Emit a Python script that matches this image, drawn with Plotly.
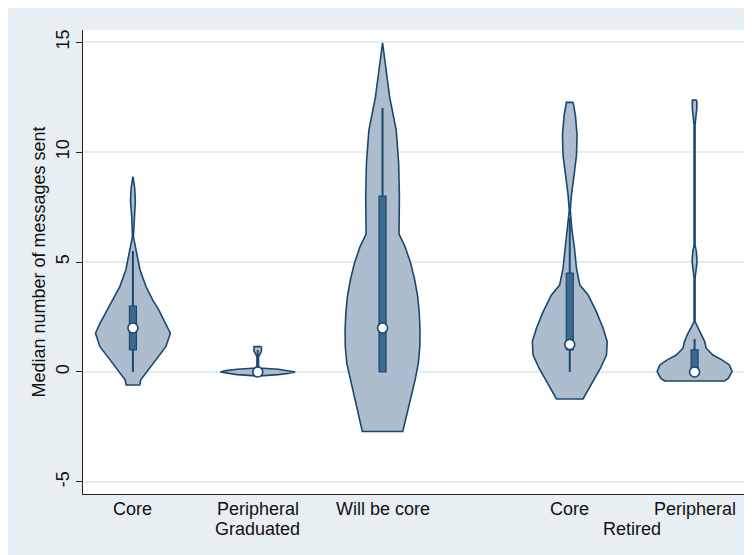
import plotly.graph_objects as go

# ---------------- data ----------------
categories = ["Core", "Peripheral", "Will be core", "Core", "Peripheral"]
groups = ["Graduated", "Retired"]
positions = [1, 2, 3, 4.5, 5.5]
group_centers = [2, 5.0]

# violin density profiles (value, relative density)
v1_y = [8.88, 8.4, 7.8, 7.0, 6.15, 5.4, 4.64, 3.88, 3.27, 2.82, 2.21, 1.76, 1.15, 0.55, 0.09, -0.36, -0.59]
v1_d = [0.0, 0.045, 0.065, 0.03, 0.013, 0.1, 0.19, 0.35, 0.53, 0.69, 0.88, 1.0, 0.88, 0.61, 0.4, 0.21, 0.18]

v2_y = [1.15, 0.95, 0.8, 0.7, 0.3, 0.18, 0.12, 0.06, 0.0, -0.06, -0.12, -0.18]
v2_d = [0.1, 0.1, 0.06, 0.02, 0.02, 0.05, 0.55, 0.85, 1.0, 0.85, 0.55, 0.05]

v3_y = [14.97, 14.03, 12.5, 11.0, 9.5, 7.97, 6.45, 6.27, 5.70, 4.95, 4.18, 3.42, 2.68, 1.91, 1.15, 0.39, -0.36, -1.12, -1.88, -2.71]
v3_d = [0.0, 0.075, 0.19, 0.365, 0.43, 0.45, 0.44, 0.44, 0.6, 0.75, 0.86, 0.94, 0.98, 1.0, 0.995, 0.955, 0.87, 0.76, 0.655, 0.54]

v4_y = [12.26, 11.68, 10.77, 9.86, 8.95, 8.05, 7.36, 6.53, 5.62, 4.71, 3.95, 3.5, 2.74, 1.99, 1.38, 0.77, 0.17, -0.44, -1.23]
v4_d = [0.09, 0.15, 0.195, 0.18, 0.115, 0.045, 0.013, 0.053, 0.125, 0.18, 0.27, 0.49, 0.71, 0.89, 1.0, 0.98, 0.82, 0.62, 0.355]

v5_y = [12.36, 11.98, 11.53, 11.23, 5.77, 5.47, 5.02, 4.56, 4.26, 2.29, 1.99, 1.68, 1.38, 1.08, 0.77, 0.55, 0.32, 0.02, -0.29, -0.41]
v5_d = [0.06, 0.06, 0.03, 0.013, 0.013, 0.048, 0.067, 0.04, 0.013, 0.013, 0.1, 0.2, 0.27, 0.31, 0.49, 0.73, 0.93, 1.0, 0.9, 0.8]

# box statistics
medians = [2, 0, 2, 1.25, 0]
q1 = [1, 0, 0, 1, 0]
q3 = [3, 0, 8, 4.5, 1]
whisker_lo = [0, 0, 0, 0, 0]
whisker_hi = [5.5, 1, 12, 7, 1.5]

y_ticks = [-5, 0, 5, 10, 15]
y_ticktext = ["-5", "0", "5", "10", "15"]

# ---------------- style ----------------
FILL = "#aebdcd"
LINE = "#1a476f"
BOX = "#3d6a8f"
GRID = "#e4edf1"
PANEL = "#e8eff2"
FONT = "Liberation Sans, Arial, sans-serif"
HALF = 0.30   # max half-width of a violin in x units
BOXW = 0.028

profiles = [(v1_y, v1_d), (v2_y, v2_d), (v3_y, v3_d), (v4_y, v4_d), (v5_y, v5_d)]

fig = go.Figure()

for i, (ys, ds) in enumerate(profiles):
    p = positions[i]
    xs = [p + HALF * d for d in ds] + [p - HALF * d for d in reversed(ds)]
    yy = list(ys) + list(reversed(ys))
    xs.append(xs[0]); yy.append(yy[0])
    fig.add_trace(go.Scatter(x=xs, y=yy, mode="lines", fill="toself", fillcolor=FILL,
                             line=dict(color=LINE, width=1.6), hoverinfo="skip", showlegend=False))
    fig.add_trace(go.Scatter(x=[p, p], y=[whisker_lo[i], whisker_hi[i]], mode="lines",
                             line=dict(color=LINE, width=2), hoverinfo="skip", showlegend=False))
    if q3[i] > q1[i]:
        fig.add_trace(go.Scatter(x=[p - BOXW, p + BOXW, p + BOXW, p - BOXW, p - BOXW],
                                 y=[q1[i], q1[i], q3[i], q3[i], q1[i]], mode="lines",
                                 fill="toself", fillcolor=BOX, line=dict(color=LINE, width=1.2),
                                 hoverinfo="skip", showlegend=False))
    fig.add_trace(go.Scatter(x=[p], y=[medians[i]], mode="markers",
                             marker=dict(size=10, color="white", line=dict(color=LINE, width=1.6)),
                             hoverinfo="skip", showlegend=False))

annotations = []
for c, t in zip(positions, categories):
    annotations.append(dict(x=c, y=0, xref="x", yref="paper", yshift=-3, yanchor="top",
                            text=t, showarrow=False, font=dict(family=FONT, size=18, color="#111")))
for g, c in zip(groups, group_centers):
    annotations.append(dict(x=c, y=0, xref="x", yref="paper", yshift=-23, yanchor="top",
                            text=g, showarrow=False, font=dict(family=FONT, size=18, color="#111")))

# page body has an 8px margin: figure sits at (8, 8) in the window
fig.update_layout(
    width=744, height=547,
    margin=dict(l=75, r=7, t=22, b=61),
    paper_bgcolor=PANEL,
    plot_bgcolor="white",
    font=dict(family=FONT, size=18, color="#111"),
    annotations=annotations,
    xaxis=dict(range=[0.6, 5.904], tickvals=positions, showticklabels=False, showgrid=False,
               zeroline=False, showline=True, linecolor="#222", linewidth=1, ticks="",
               automargin=False),
    yaxis=dict(range=[-5.55, 15.55], tickvals=y_ticks, ticktext=y_ticktext, ticks="outside",
               ticklen=6, tickcolor="#222",
               tickangle=-90, showgrid=True, gridcolor=GRID, gridwidth=1.5, zeroline=False,
               showline=True, linecolor="#222", linewidth=1, automargin=False,
               title=dict(text="Median number of messages sent", font=dict(size=18), standoff=2),
               tickfont=dict(size=18)),
)

fig.write_html("out.html")
